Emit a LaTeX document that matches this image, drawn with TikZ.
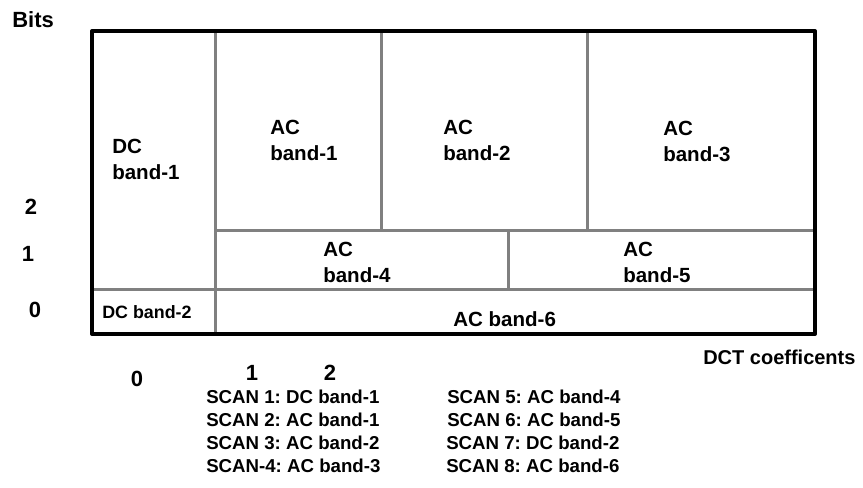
\documentclass[tikz,border=0pt]{standalone}
\usepackage{fontspec}
\setmainfont{Liberation Sans}
\frenchspacing
\begin{document}
\begin{tikzpicture}[x=0.75pt,y=-0.75pt,inner sep=0pt,
  band/.style={anchor=west,align=left,font=\bfseries\fontsize{15.4}{19.5}\selectfont},
  axis/.style={font=\bfseries\fontsize{16.5}{18}\selectfont},
  scan/.style={anchor=west,font=\bfseries\fontsize{14}{16}\selectfont},
  split/.style={draw=black!50,line width=2.25pt}]
  \useasboundingbox (0,0) rectangle (863,488);
  % band borders
  \draw[split] (215,31) -- (215,334);
  \draw[split] (92,289) -- (815,289);
  \draw[split] (215,231) -- (815,231);
  \draw[split] (381,31) -- (381,231);
  \draw[split] (587,31) -- (587,231);
  \draw[split] (508,231) -- (508,289);
  \draw[line width=3pt,line join=round] (92,31) rectangle (815,334);
  % band labels
  \node[band] (dc1) at (112,159) {DC\\band-1};
  \node[band] (ac1) at (270,140) {AC\\band-1};
  \node[band] (ac2) at (443,140) {AC\\band-2};
  \node[band] (ac3) at (663,141) {AC\\band-3};
  \node[band] (ac4) at (323,262) {AC\\band-4};
  \node[band] (ac5) at (623,262) {AC\\band-5};
  \node[band] (ac6) at (453,319.5) {AC band-6};
  \node[band,font=\bfseries\fontsize{13.4}{16}\selectfont] (dc2) at (102,312) {DC band-2};
  % axes
  \node[axis,anchor=west] (bits) at (12,20) {Bits};
  \node[axis] (y2) at (31,207) {2};
  \node[axis] (y1) at (28,254) {1};
  \node[axis] (y0) at (35,310) {0};
  \node[axis] (x0) at (137,379) {0};
  \node[axis] (x1) at (252,373) {1};
  \node[axis] (x2) at (330,373) {2};
  \node[scan,font=\bfseries\fontsize{15}{16}\selectfont] (dct) at (703,357) {DCT coefficents};
  % scan order
  \node[scan] (s1) at (206,397) {SCAN 1: DC band-1};
  \node[scan] (s2) at (206,420) {SCAN 2: AC band-1};
  \node[scan] (s3) at (206,443) {SCAN 3: AC band-2};
  \node[scan] (s4) at (206,466) {SCAN-4: AC band-3};
  \node[scan] (s5) at (447,397) {SCAN 5: AC band-4};
  \node[scan] (s6) at (447,420) {SCAN 6: AC band-5};
  \node[scan] (s7) at (446,443) {SCAN 7: DC band-2};
  \node[scan] (s8) at (446,466) {SCAN 8: AC band-6};
\end{tikzpicture}
\end{document}
